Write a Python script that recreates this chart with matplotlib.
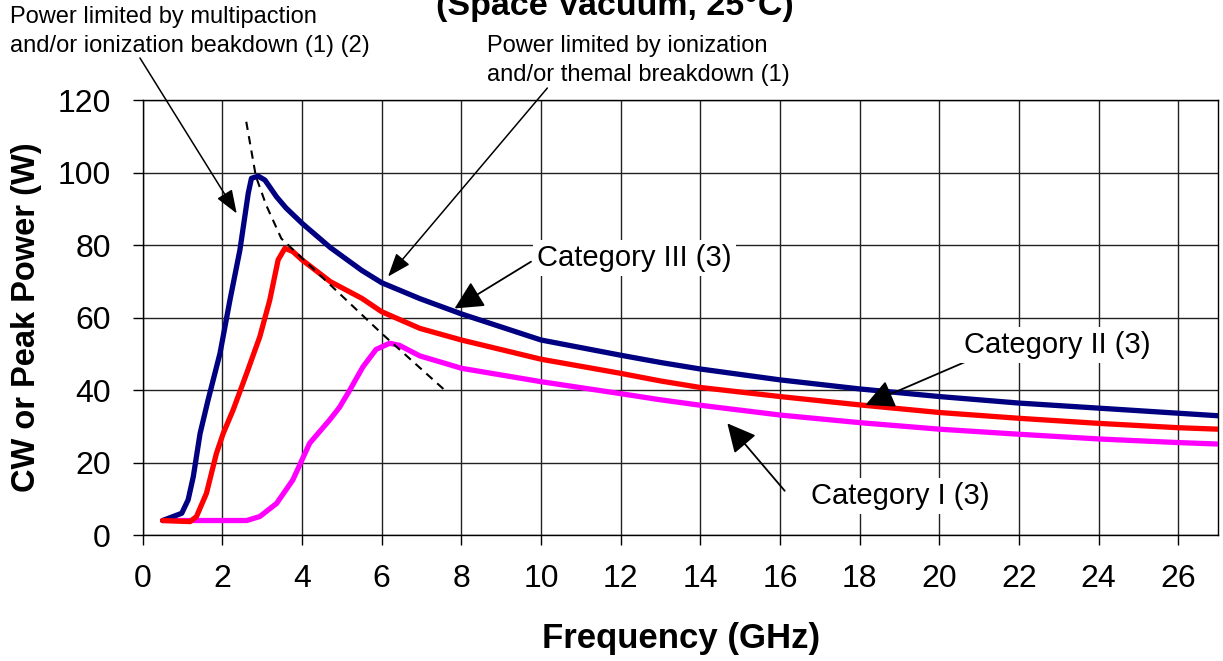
import numpy as np
import matplotlib
matplotlib.use('Agg')
import matplotlib.pyplot as plt

plt.rcParams['font.family'] = ['Liberation Sans', 'DejaVu Sans']

# Category III (3) - top curve
freq_cat3 = [0.5, 0.98, 1.14, 1.27, 1.44, 1.64, 1.94, 2.19, 2.44, 2.65, 2.73, 2.9, 3.07,
             3.36, 3.6, 4.0, 4.71, 5.5, 6.0, 6.96, 8.0, 10, 12, 13, 14, 16, 18, 20, 22, 24, 26, 27]
power_cat3 = [4, 6, 9.7, 16.1, 28, 37.2, 50.1, 64.8, 78.6, 94.3, 98.4, 99, 97.9,
              93.3, 90.2, 86.0, 79.3, 73.0, 69.6, 65.2, 61.0, 53.8, 49.6, 47.6, 45.8, 42.8, 40.3,
              38.2, 36.4, 35, 33.6, 32.9]

# Category II (3)
freq_cat2 = [0.5, 1.19, 1.35, 1.6, 1.85, 2.02, 2.27, 2.61, 2.94, 3.19, 3.4, 3.57, 3.77,
             4.0, 4.71, 5.5, 6.0, 6.96, 8.0, 10, 12, 13, 14, 16, 18, 20, 22, 24, 26, 27]
power_cat2 = [4, 3.7, 5.1, 11.5, 22.5, 28, 34.5, 44.6, 54.7, 64.8, 75.9, 79.1, 78.2,
              75.9, 69.9, 65.3, 61.6, 57.0, 53.8, 48.5, 44.6, 42.5, 40.7, 38.2, 35.9, 33.8,
              32.2, 30.8, 29.6, 29.2]

# Category I (3)
freq_cat1 = [0.5, 2.61, 2.94, 3.36, 3.77, 4.19, 4.44, 4.69, 4.94, 5.2, 5.53, 5.86, 6.2,
             6.45, 6.96, 7.7, 8.0, 10, 12, 13, 14, 16, 18, 20, 22, 24, 26, 27]
power_cat1 = [4, 4, 5.1, 8.7, 15.2, 25.3, 28.5, 31.7, 35.2, 40, 46.4, 51.2, 52.9,
              52.3, 49.4, 47, 46, 42.3, 39.0, 37.3, 35.8, 33.1, 31.0, 29.2, 27.8, 26.5, 25.5, 25.1]

# dashed limit line
freq_lim = [2.6, 2.84, 3.1, 3.48, 4.71, 6.0, 7.58]
power_lim = [114, 99, 91, 81.8, 69, 55.6, 40]

x_ticks = np.arange(0, 27, 2)
y_ticks = np.arange(0, 121, 20)

fig = plt.figure(figsize=(12.23, 6.61), dpi=100)
ax = fig.add_axes([0.1167, 0.1906, 0.8792, 0.6581])

line_kw = dict(lw=3.8, solid_capstyle='round', solid_joinstyle='round')
ax.plot(freq_cat3, power_cat3, color='#000080', zorder=4, **line_kw)
ax.plot(freq_cat2, power_cat2, color='#ff0000', zorder=4, **line_kw)
ax.plot(freq_cat1, power_cat1, color='#ff00ff', zorder=3, **line_kw)
ax.plot(freq_lim, power_lim, color='black', lw=1.5, ls=(0, (4, 3)), zorder=5)

ax.set_xlim(0, 27)
ax.set_ylim(0, 120)
ax.set_xticks(x_ticks)
ax.set_yticks(y_ticks)
ax.tick_params(axis='both', direction='out', length=7, width=1, labelsize=23, pad=14)
ax.tick_params(axis='y', pad=16)
ax.grid(True, color='#222222', lw=1)
for s in ax.spines.values():
    s.set_linewidth(1)
    s.set_color('black')

ax.set_xlabel('Frequency (GHz)', fontsize=25, fontweight='bold')
ax.set_ylabel('CW or Peak Power (W)', fontsize=23.5, fontweight='bold')
ax.xaxis.set_label_coords(0.5006, -0.2)
ax.yaxis.set_label_coords(-0.094, 0.5)

fig.text(0.503, 1 - 15 / 661, '(Space Vacuum, 25°C)', fontsize=24.5, fontweight='bold',
         ha='center', va='baseline')

# top annotations
fig.text(10 / 1223, 1 - 6 / 661, 'Power limited by multipaction\nand/or ionization beakdown (1) (2)',
         fontsize=17, ha='left', va='top', linespacing=1.4)
fig.text(487 / 1223, 1 - 35 / 661, 'Power limited by ionization\nand/or themal breakdown (1)',
         fontsize=17, ha='left', va='top', linespacing=1.4)

small_arrow = dict(arrowstyle='-|>,head_length=0.8,head_width=0.3', color='black', lw=1.1,
                   mutation_scale=18, shrinkA=0, shrinkB=0)
big_arrow = dict(arrowstyle='-|>,head_length=0.8,head_width=0.4', color='black', lw=1.3,
                 mutation_scale=22, shrinkA=0, shrinkB=0)

ax.annotate('', xy=(2.36, 88.7), xytext=(-0.07, 131.6), arrowprops=small_arrow,
            annotation_clip=False, zorder=6)
ax.annotate('', xy=(6.16, 71.3), xytext=(10.16, 123.3), arrowprops=small_arrow,
            annotation_clip=False, zorder=6)
ax.annotate('', xy=(7.83, 62.5), xytext=(9.75, 75.4), arrowprops=big_arrow, zorder=6)
ax.annotate('', xy=(18.15, 35.9), xytext=(20.96, 49.2), arrowprops=big_arrow, zorder=6)
ax.annotate('', xy=(14.68, 30.8), xytext=(16.12, 12.2), arrowprops=big_arrow, zorder=6)

box = dict(facecolor='white', edgecolor='none', pad=3)
ax.text(9.91, 76.4, 'Category III (3)', fontsize=21, ha='left', va='center', bbox=box, zorder=6)
ax.text(20.61, 52.4, 'Category II (3)', fontsize=21, ha='left', va='center', bbox=box, zorder=6)
ax.text(16.77, 10.8, 'Category I (3)', fontsize=21, ha='left', va='center', bbox=box, zorder=6)

fig.savefig('out.png', dpi=100)
